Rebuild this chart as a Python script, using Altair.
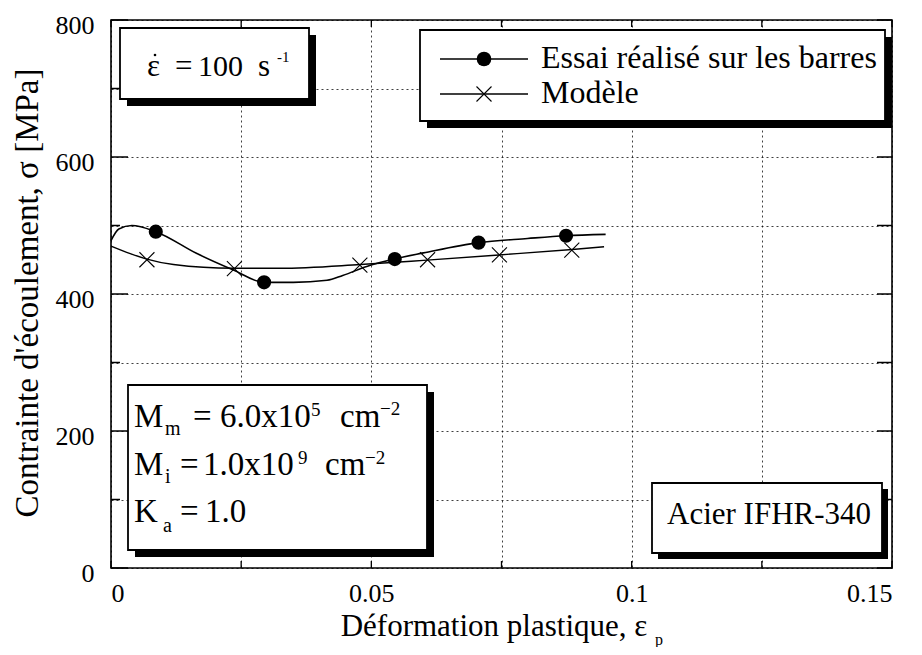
import altair as alt
import pandas as pd

# ---- data ----
exp_curve_x = [0.0, 0.0015, 0.004, 0.0086, 0.0165, 0.0235, 0.0294, 0.035, 0.0415, 0.0445, 0.0498, 0.0543, 0.060, 0.0706, 0.080, 0.0873, 0.095]
exp_curve_y = [478, 495, 500, 491, 459, 435, 417, 417, 420, 427, 442, 451, 460, 475, 481, 485, 487]
model_curve_x = [0.0, 0.0037, 0.0069, 0.012, 0.0235, 0.0325, 0.0479, 0.0607, 0.0745, 0.0886, 0.0947]
model_curve_y = [470, 459, 451, 443, 437.5, 437.5, 443, 449.5, 457, 465, 469]
exp_pts_x = [0.0086, 0.0294, 0.0545, 0.0706, 0.0874]
exp_pts_y = [491, 417, 451, 475, 485]
model_pts_x = [0.0069, 0.0237, 0.0478, 0.0608, 0.0746, 0.0885]
model_pts_y = [450, 437, 442, 450, 457, 464]

x_grid_values = [0, 0.025, 0.05, 0.075, 0.1, 0.125, 0.15]
y_grid_values = [0, 100, 200, 300, 400, 500, 600, 700, 800]

legend_labels = ["Essai réalisé sur les barres", "Modèle"]
x_title = "Déformation plastique, ε"
y_title = "Contrainte d'écoulement, σ [MPa]"

FONT = "'Liberation Serif', 'Times New Roman', 'DejaVu Serif', serif"
PX0, PY0 = 111, 20   # page position of plot origin
W, H = 781, 548

def px(x):
    return x - PX0

def py(y):
    return y - PY0

one = pd.DataFrame({"a": [0]})

xs = alt.Scale(domain=[0, 0.15], nice=False, zero=False)
ys = alt.Scale(domain=[0, 800], nice=False, zero=False)

x_axis = alt.Axis(values=x_grid_values, grid=True, ticks=False, domain=False,
                  labelExpr="indexof([0,0.05,0.1,0.15], datum.value) >= 0 ? format(datum.value, '~g') : ''",
                  labelFont=FONT, labelFontSize=26, labelColor="black", labelPadding=12,
                  gridDash=[2, 3], gridColor="black", gridOpacity=0.75, gridWidth=1, title=None)
y_axis = alt.Axis(values=y_grid_values, grid=True, ticks=False, domain=False,
                  labelExpr="indexof([0,200,400,600,800], datum.value) >= 0 ? datum.label : ''",
                  labelFont=FONT, labelFontSize=26, labelColor="black", labelPadding=17,
                  labelOffset=5,
                  gridDash=[2, 3], gridColor="black", gridOpacity=0.75, gridWidth=1, title=None)

exp_curve = pd.DataFrame({"x": exp_curve_x, "y": exp_curve_y})
model_curve = pd.DataFrame({"x": model_curve_x, "y": model_curve_y})
exp_pts = pd.DataFrame({"x": exp_pts_x, "y": exp_pts_y})
model_pts = pd.DataFrame({"x": model_pts_x, "y": model_pts_y})

grid_layer = alt.Chart(exp_curve).mark_point(opacity=0).encode(
    x=alt.X("x:Q", scale=xs, axis=x_axis),
    y=alt.Y("y:Q", scale=ys, axis=y_axis),
)

line_exp = alt.Chart(exp_curve).mark_line(color="black", strokeWidth=1.6, interpolate="monotone").encode(
    x=alt.X("x:Q", scale=xs), y=alt.Y("y:Q", scale=ys))
line_mod = alt.Chart(model_curve).mark_line(color="black", strokeWidth=1.4, interpolate="monotone").encode(
    x=alt.X("x:Q", scale=xs), y=alt.Y("y:Q", scale=ys))

CROSS = "M-1,-1L1,1M1,-1L-1,1"
pts_exp = alt.Chart(exp_pts).mark_point(shape="circle", filled=True, color="black", size=200, opacity=1).encode(
    x=alt.X("x:Q", scale=xs), y=alt.Y("y:Q", scale=ys))
pts_mod = alt.Chart(model_pts).mark_point(shape=CROSS, filled=False, color="black", size=225, strokeWidth=1.1, opacity=1).encode(
    x=alt.X("x:Q", scale=xs), y=alt.Y("y:Q", scale=ys))

# inward ticks
yt = pd.DataFrame({"v": y_grid_values})
yt_major = yt[yt["v"] % 200 == 0]
yt_minor = yt[yt["v"] % 200 != 0]
tick_left = alt.Chart(yt_major).mark_rule(color="black", strokeWidth=1.5).encode(
    y=alt.Y("v:Q", scale=ys), x=alt.value(0), x2=alt.value(17))
tick_left_minor = alt.Chart(yt_minor).mark_rule(color="black", strokeWidth=1.5).encode(
    y=alt.Y("v:Q", scale=ys), x=alt.value(0), x2=alt.value(9))
tick_right = alt.Chart(yt).mark_rule(color="black", strokeWidth=1.5).encode(
    y=alt.Y("v:Q", scale=ys), x=alt.value(W - 15), x2=alt.value(W))
xt = pd.DataFrame({"v": x_grid_values})
tick_bottom = alt.Chart(xt).mark_rule(color="black", strokeWidth=1.3).encode(
    x=alt.X("v:Q", scale=xs), y=alt.value(H - 7), y2=alt.value(H))
tick_top = alt.Chart(xt).mark_rule(color="black", strokeWidth=1.3).encode(
    x=alt.X("v:Q", scale=xs), y=alt.value(0), y2=alt.value(7))

layers = [grid_layer, tick_left, tick_left_minor, tick_right, tick_bottom, tick_top]

def box(x1, y1, x2, y2, off=7):
    shadow = alt.Chart(one).mark_rect(color="black").encode(
        x=alt.value(px(x1 + off)), x2=alt.value(px(x2 + off)),
        y=alt.value(py(y1 + off)), y2=alt.value(py(y2 + off)))
    body = alt.Chart(one).mark_rect(fill="white", stroke="black", strokeWidth=1.8).encode(
        x=alt.value(px(x1)), x2=alt.value(px(x2)),
        y=alt.value(py(y1)), y2=alt.value(py(y2)))
    return [shadow, body]

def txt(x, y, s, size, align="left", angle=0):
    kw = dict(align=align, baseline="alphabetic", font=FONT, fontSize=size, color="black", text=s)
    if angle:
        kw["angle"] = angle
    return alt.Chart(one).mark_text(**kw).encode(x=alt.value(px(x)), y=alt.value(py(y)))

layers += [line_mod, line_exp, pts_mod, pts_exp]

# box 1: strain rate (epsilon with a dot above)
layers += box(120, 28, 309, 99)
layers += [txt(147, 76, "ε", 31),
           alt.Chart(one).mark_point(shape="circle", filled=True, color="black", size=7, opacity=1).encode(
               x=alt.value(px(155)), y=alt.value(py(55))),
           txt(175, 76, "=", 31), txt(198, 76, "100", 30),
           txt(258, 76, "s", 31), txt(277, 62, "-1", 15)]

# legend box
layers += box(420, 30, 885, 121, off=7)
layers += [
    alt.Chart(one).mark_rule(color="black", strokeWidth=1.4).encode(x=alt.value(px(440)), x2=alt.value(px(528)), y=alt.value(py(59))),
    alt.Chart(one).mark_rule(color="black", strokeWidth=1.4).encode(x=alt.value(px(440)), x2=alt.value(px(528)), y=alt.value(py(94))),
    alt.Chart(one).mark_point(shape="circle", filled=True, color="black", size=215, opacity=1).encode(x=alt.value(px(484)), y=alt.value(py(59))),
    alt.Chart(one).mark_point(shape=CROSS, filled=False, color="black", size=225, strokeWidth=1.1, opacity=1).encode(x=alt.value(px(484)), y=alt.value(py(94))),
    txt(541, 68, legend_labels[0], 32),
    txt(541, 103, legend_labels[1], 32),
]

# parameters box
layers += box(128, 385, 427, 550)
layers += [
    txt(134, 427, "M", 33), txt(165, 435, "m", 20), txt(193, 427, "=", 33), txt(220, 427, "6.0x10", 33),
    txt(311, 416, "5", 19), txt(340, 427, "cm", 33), txt(380, 415, "−2", 19),
    txt(134, 475, "M", 33), txt(165, 483, "i", 20), txt(180, 475, "=", 33), txt(203, 475, "1.0x10", 33),
    txt(298, 464, "9", 19), txt(325, 475, "cm", 33), txt(365, 464, "−2", 19),
    txt(134, 522, "K", 33), txt(163, 532, "a", 20), txt(180, 522, "=", 33), txt(205, 522, "1.0", 33),
]

# material box
layers += box(652, 483, 882, 553, off=6)
layers += [txt(667, 524, "Acier IFHR-340", 31)]

# axis titles
layers += [txt(494, 636, x_title, 31, align="center"), txt(655, 645, "p", 16)]
layers += [txt(38, 293, y_title, 33, align="center", angle=270)]

chart = alt.layer(*layers).properties(
    width=W, height=H,
    autosize=alt.AutoSizeParams(type="none"),
    padding={"left": 103, "top": 12, "right": 22, "bottom": 79},
    background="white",
).configure_view(stroke="black", strokeWidth=1.6)

chart.save("out.html", embed_options={"renderer": "svg", "actions": False})
